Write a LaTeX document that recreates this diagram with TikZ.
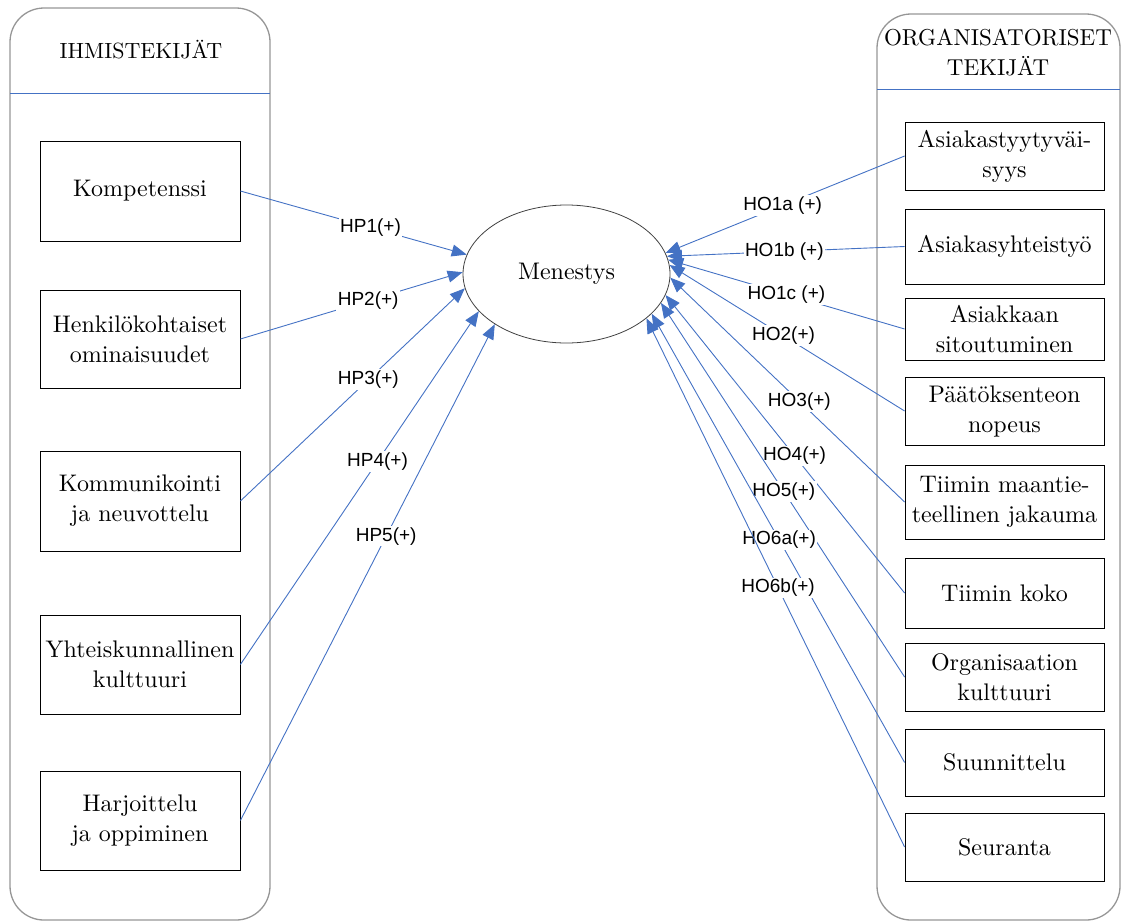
\documentclass[tikz,border=0pt]{standalone}
\usepackage{fontspec}
\setmainfont{lmroman10-regular.otf}[BoldFont=lmroman10-bold.otf, ItalicFont=lmroman10-italic.otf]
\newfontfamily\labelfont{Liberation Sans}
\usetikzlibrary{arrows.meta,shapes.geometric}
\definecolor{lineblue}{RGB}{68,114,196}
\definecolor{framegray}{RGB}{150,150,150}
\begin{document}
\begin{tikzpicture}[x=1pt,y=-1pt,
  container/.style={draw=framegray, line width=1.3pt, rounded corners=34pt},
  divider/.style={draw=lineblue, line width=0.8pt},
  factor/.style={draw=black, line width=0.8pt, align=center, inner sep=2pt,
    font=\fontsize{24}{30}\selectfont},
  lfactor/.style={factor, minimum width=200pt},
  rfactor/.style={factor, minimum width=199pt},
  hyp/.style={draw=lineblue, line width=0.9pt, -{Triangle[length=15pt,width=12pt,fill=lineblue]}},
  hyplabel/.style={fill=white, inner sep=1.5pt, text=black,
    font=\labelfont\fontsize{19}{22}\selectfont}
]
\useasboundingbox (0,0) rectangle (1121,922);
% containers
\draw[container] (10,8) rectangle (270,920);
\draw[divider] (10,93) -- (270,93);
\node[font=\fontsize{22}{28}\selectfont] (htitle) at (141,50) {IHMISTEKIJÄT};
\draw[container] (877,14) rectangle (1120,920);
\draw[divider] (877,89) -- (1120,89);
\node[font=\fontsize{23}{30}\selectfont, align=center] (otitle) at (998,53) {ORGANISATORISET\\TEKIJÄT};
% central ellipse
\node[ellipse, draw=black!75, line width=0.8pt, minimum width=207pt, minimum height=138pt,
  inner sep=0pt, font=\fontsize{24}{30}\selectfont] (M) at (566.5,274) {Menestys};
% left factors
\node[lfactor, minimum height=100pt] (k)  at (140,191)   {Kompetenssi};
\node[lfactor, minimum height=98pt]  (h)  at (140,339)   {Henkilökohtaiset\\ominaisuudet};
\node[lfactor, minimum height=100pt] (ko) at (140,501)   {Kommunikointi\\ja neuvottelu};
\node[lfactor, minimum height=99pt]  (y)  at (140,664.5) {Yhteiskunnallinen\\kulttuuri};
\node[lfactor, minimum height=99pt]  (ha) at (140,820.5) {Harjoittelu\\ja oppiminen};
% right factors
\node[rfactor, minimum height=68pt] (a1) at (1004.5,156)   {Asiakastyytyväi-\\syys};
\node[rfactor, minimum height=75pt] (a2) at (1004.5,246.5) {Asiakasyhteistyö};
\node[rfactor, minimum height=62pt] (a3) at (1004.5,329)   {Asiakkaan\\sitoutuminen};
\node[rfactor, minimum height=68pt] (p)  at (1004.5,411)   {Päätöksenteon\\nopeus};
\node[rfactor, minimum height=74pt] (t1) at (1004.5,502)   {Tiimin maantie-\\teellinen jakauma};
\node[rfactor, minimum height=70pt] (t2) at (1004.5,593)   {Tiimin koko};
\node[rfactor, minimum height=68pt] (o)  at (1004.5,677)   {Organisaation\\kulttuuri};
\node[rfactor, minimum height=67pt] (s1) at (1004.5,762.5) {Suunnittelu};
\node[rfactor, minimum height=68pt] (s2) at (1004.5,847)   {Seuranta};
% left hypotheses
\draw[hyp] (k.east)  -- node[hyplabel,pos=0.575]{HP1(+)} (M.169);
\draw[hyp] (h.east)  -- node[hyplabel,pos=0.575]{HP2(+)} (M.179);
\draw[hyp] (ko.east) -- node[hyplabel,pos=0.57]{HP3(+)} (M.188);
\draw[hyp] (y.east)  -- node[hyplabel,pos=0.575]{HP4(+)} (M.203);
\draw[hyp] (ha.east) -- node[hyplabel,pos=0.573]{HP5(+)} (M.215);
% right hypotheses
\draw[hyp] (a1.west) -- node[hyplabel,pos=0.51]{HO1a (+)} (M.12);
\draw[hyp] (a2.west) -- node[hyplabel,pos=0.506]{HO1b (+)} (M.10);
\draw[hyp] (a3.west) -- node[hyplabel,pos=0.5]{HO1c (+)} (M.8);
\draw[hyp] (p.west)  -- node[hyplabel,pos=0.515]{HO2(+)} (M.5);
\draw[hyp] (t1.west) -- node[hyplabel,pos=0.449]{HO3(+)} (M.-2);
\draw[hyp] (t2.west) -- node[hyplabel,pos=0.46]{HO4(+)} (M.-12);
\draw[hyp] (o.west)  -- node[hyplabel,pos=0.496]{HO5(+)} (M.-17);
\draw[hyp] (s1.west) -- node[hyplabel,pos=0.496]{HO6a(+)} (M.-25);
\draw[hyp] (s2.west) -- node[hyplabel,pos=0.49]{HO6b(+)} (M.-29.5);
\end{tikzpicture}
\end{document}
